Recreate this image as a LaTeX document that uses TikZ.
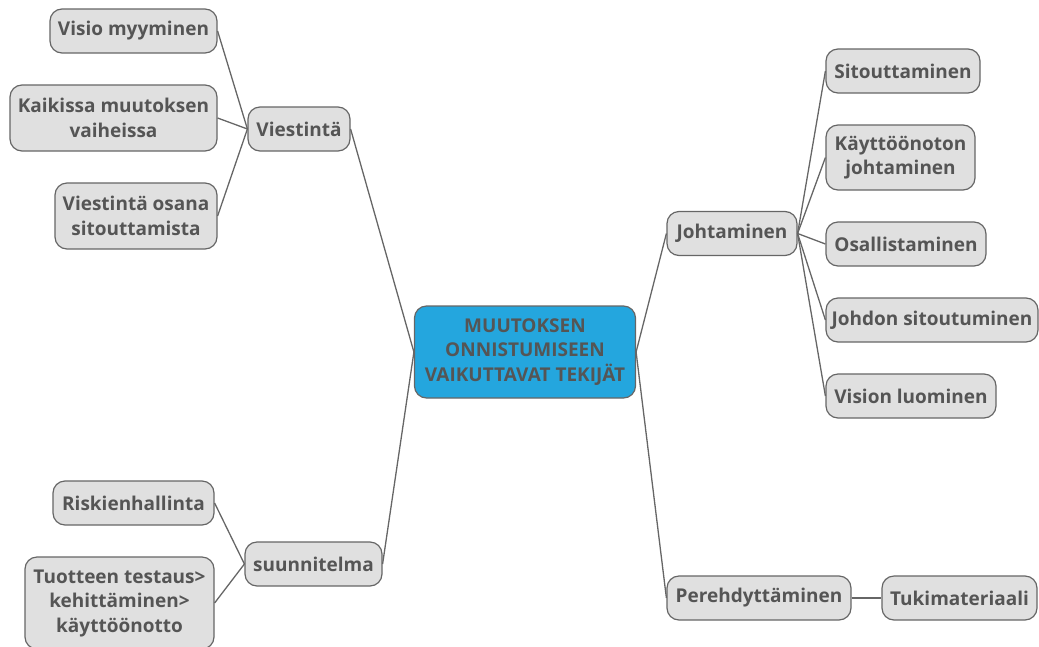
\documentclass[tikz,border=0pt]{standalone}
\usepackage{fontspec}
\setmainfont{Open Sans}
\definecolor{nodefill}{HTML}{E0E0E0}
\definecolor{edgecol}{HTML}{666666}
\definecolor{txtcol}{HTML}{555555}
\definecolor{centerblue}{HTML}{24A6DE}
\begin{document}
\begin{tikzpicture}[x=1pt,y=-1pt,
  box/.style={draw=edgecol, line width=1.2pt, fill=nodefill, rounded corners=12pt,
    text=txtcol, font=\fontsize{19}{24.5}\selectfont\bfseries, align=center,
    inner sep=0pt, minimum height=44pt},
  centerbox/.style={box, fill=centerblue},
  link/.style={draw=edgecol, line width=1.3pt}]
\useasboundingbox (0,0) rectangle (1039,646);
% center
\node[centerbox, minimum width=221pt, minimum height=92pt] (c) at (525,352) {MUUTOKSEN\\ONNISTUMISEEN\\VAIKUTTAVAT TEKIJÄT};
% left upper branch
\node[box, minimum width=102pt] (viest) at (299,129) {Viestintä};
\node[box, minimum width=167pt] (visio) at (133.5,31) {Visio myyminen};
\node[box, minimum width=207pt, minimum height=66pt] (kaik) at (113.5,118) {Kaikissa muutoksen\\vaiheissa};
\node[box, minimum width=162pt, minimum height=66pt] (vosana) at (136,216) {Viestintä osana\\sitouttamista};
% left lower branch
\node[box, minimum width=137pt] (suun) at (313.5,564) {suunnitelma};
\node[box, minimum width=161pt] (riski) at (133.5,503) {Riskienhallinta};
\node[box, minimum width=189pt, minimum height=92pt] (tuot) at (119.5,603) {Tuotteen testaus>\\kehittäminen>\\käyttöönotto};
% right upper branch
\node[box, minimum width=130pt] (joht) at (732,233.5) {Johtaminen};
\node[box, minimum width=154pt] (sit) at (903,71) {Sitouttaminen};
\node[box, minimum width=149pt, minimum height=65pt] (kayt) at (900.5,157.5) {Käyttöönoton\\johtaminen};
\node[box, minimum width=160pt] (osal) at (906,244) {Osallistaminen};
\node[box, minimum width=212pt] (johd) at (932,320) {Johdon sitoutuminen};
\node[box, minimum width=170pt] (vis) at (911,396) {Vision luominen};
% right lower branch
\node[box, minimum width=184pt] (pere) at (759,598) {Perehdyttäminen};
\node[box, minimum width=155pt] (tuki) at (959.5,598) {Tukimateriaali};
% connectors
\draw[link] (c.west) -- (viest.east);
\draw[link] (c.west) -- (suun.east);
\draw[link] (c.east) -- (joht.west);
\draw[link] (c.east) -- (pere.west);
\draw[link] (viest.west) -- (visio.east);
\draw[link] (viest.west) -- (kaik.east);
\draw[link] (viest.west) -- (vosana.east);
\draw[link] (suun.west) -- (riski.east);
\draw[link] (suun.west) -- (tuot.east);
\draw[link] (joht.east) -- (sit.west);
\draw[link] (joht.east) -- (kayt.west);
\draw[link] (joht.east) -- (osal.west);
\draw[link] (joht.east) -- (johd.west);
\draw[link] (joht.east) -- (vis.west);
\draw[link] (pere.east) -- (tuki.west);
\end{tikzpicture}
\end{document}
